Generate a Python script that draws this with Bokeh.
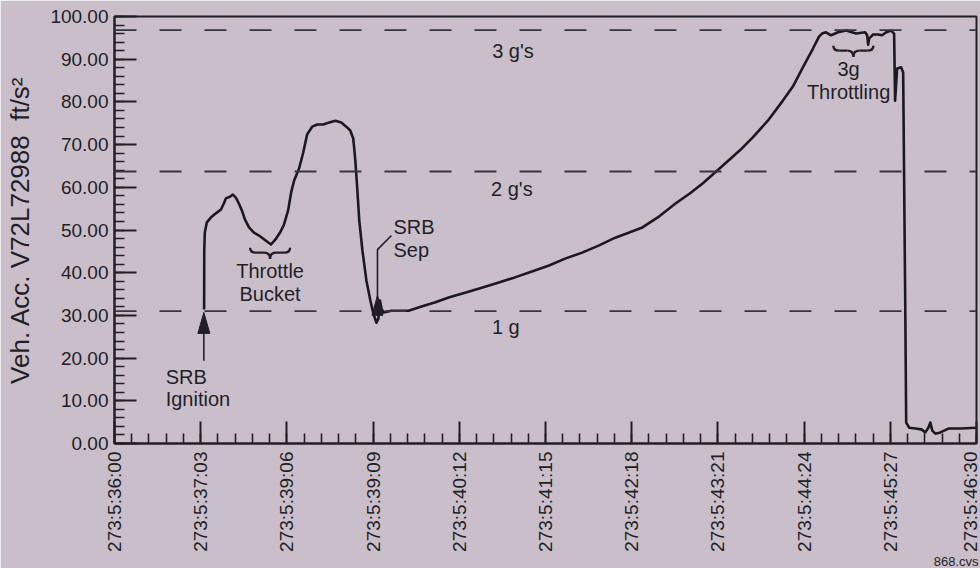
import math
from bokeh.plotting import figure
from bokeh.models import Range1d, SingleIntervalTicker, PrintfTickFormatter, Span, Title, ColumnDataSource
from bokeh.core.properties import value
from bokeh.embed import file_html
from bokeh.resources import INLINE

# ---------------- data ----------------
tick_labels = ["273:5:36:00", "273:5:37:03", "273:5:39:06", "273:5:39:09", "273:5:40:12",
               "273:5:41:15", "273:5:42:18", "273:5:43:21", "273:5:44:24", "273:5:45:27",
               "273:5:46:30"]
tick_step = 63  # seconds between labelled ticks

t = [65.5, 65.6, 66.0, 67.5, 70.4, 74.1, 77.8, 79.9, 81.4, 84.3, 86.5, 88.7, 90.9, 93.1, 95.3,
     98.3, 101.9, 105.6, 110.7, 114.4, 118.1, 121.0, 123.9, 126.9, 129.1, 131.3, 134.9, 137.9,
     140.8, 144.5, 148.2, 152.6, 157.0, 161.4, 165.7, 169.4, 172.3, 174.5, 176.0, 177.5, 178.9,
     181.2, 184.1, 187.0, 189.2, 191.4, 192.9, 194.0, 195.1, 196.6, 202.4, 214.9, 224.4, 234.0,
     244.2, 257.4, 268.4, 280.9, 292.6, 305.1, 317.6, 329.3, 341.8, 354.2, 366.0, 376.2, 385.8,
     398.2, 410.0, 420.2, 429.8, 442.2, 456.9, 466.5, 477.5, 488.5, 495.8, 503.1, 510.5, 514.9,
     517.1, 520.0, 523.7, 528.8, 534.7, 542.0, 548.6, 550.1, 550.8, 551.5, 554.5, 558.1, 561.0,
     564.0, 567.6, 569.8, 570.5, 572.0, 574.9, 576.4, 577.9, 578.6, 580.9, 585.3, 589.7, 592.6,
     594.8, 596.3, 597.7, 599.9, 603.6, 609.5, 618.3, 630.0]
acc = [31.4, 45.2, 49.4, 51.8, 52.9, 53.9, 54.8, 56.2, 57.4, 57.8, 58.3, 57.6, 56.2, 54.6, 52.5,
       50.6, 49.4, 48.7, 47.5, 46.6, 48.0, 49.4, 51.3, 54.6, 58.8, 61.6, 64.4, 68.1, 72.4, 74.2,
       74.7, 74.7, 75.2, 75.6, 75.2, 74.2, 73.3, 71.4, 66.3, 59.3, 52.2, 45.2, 38.2, 33.5, 30.4,
       28.3, 29.3, 33.5, 31.6, 30.7, 31.1, 31.1, 32.1, 33.0, 34.2, 35.4, 36.5, 37.7, 38.9, 40.3,
       41.7, 43.3, 44.7, 46.4, 48.2, 49.4, 50.6, 53.2, 56.2, 58.5, 60.9, 64.4, 68.6, 71.7, 75.6,
       80.3, 83.6, 88.1, 92.5, 95.3, 96.0, 96.3, 95.6, 96.3, 96.7, 96.0, 96.3, 95.6, 93.4, 94.8,
       95.8, 95.8, 95.6, 96.3, 96.7, 96.0, 80.3, 87.8, 88.1, 86.9, 33.5, 4.9, 3.7, 3.5, 3.3,
       2.6, 3.7, 4.9, 3.0, 2.3, 2.6, 3.5, 3.5, 3.7]

g_levels = [31.0, 63.7, 96.8]
g_labels = ["1 g", "2 g's", "3 g's"]
g_label_x = [286.0, 290.4, 291.2]
g_label_y = [25.8, 58.1, 90.4]

ann_text = ["SRB", "Ignition", "Throttle", "Bucket", "SRB", "Sep", "3g", "Throttling"]
ann_x = [37.4, 37.4, 113.7, 113.7, 203.9, 203.9, 536.5, 536.5]
ann_y = [14.1, 9.1, 38.9, 33.5, 49.4, 43.8, 86.2, 81.0]
ann_align = ["left", "left", "center", "center", "left", "left", "center", "center"]

brace_x = [113.7, 540.0]
brace_y = [44.7, 92.0]

# arrows: (path xs, path ys) ending at the tip
ign_arrow_x = [65.3, 65.3]
ign_arrow_y = [19.4, 30.7]
sep_arrow_x = [202.4, 192.2, 192.2]
sep_arrow_y = [48.7, 45.4, 34.7]

file_tag = "868.cvs"

# ---------------- style ----------------
BG = "#cbbecb"
INK = "#221e26"
FONT = "Liberation Sans"
W, H = 980, 568
ML, MR, MT, MB = 114, 4, 16, 125
XMAX = tick_step * (len(tick_labels) - 1)
FW, FH = W - ML - MR, H - MT - MB
SX = XMAX / FW      # data units per px
SY = 100.0 / FH
TEXT_DY = -6        # baseline calibration for the text glyphs (px)

p = figure(width=W, height=H, x_range=Range1d(0, XMAX), y_range=Range1d(0, 100),
           output_backend="svg", toolbar_location=None,
           min_border_left=ML, min_border_right=MR, min_border_top=MT, min_border_bottom=MB)
p.background_fill_color = BG
p.border_fill_color = BG
p.outline_line_color = INK
p.outline_line_width = 2
p.xgrid.visible = False
p.ygrid.visible = False

for ax in (p.xaxis[0], p.yaxis[0]):
    ax.axis_line_color = INK
    ax.axis_line_width = 2
    ax.major_tick_line_color = INK
    ax.minor_tick_line_color = INK
    ax.major_tick_line_width = 2
    ax.minor_tick_line_width = 1.6
    ax.major_tick_in = 22
    ax.major_tick_out = 0
    ax.minor_tick_in = 10
    ax.minor_tick_out = 0
    ax.major_label_text_font = FONT
    ax.major_label_text_font_size = "19px"
    ax.major_label_text_color = INK

p.xaxis.ticker = SingleIntervalTicker(interval=tick_step, num_minor_ticks=5)
p.xaxis.major_label_overrides = {i * tick_step: lab for i, lab in enumerate(tick_labels)}
p.xaxis.major_label_orientation = math.pi / 2
p.xaxis.major_label_standoff = 8

p.yaxis.ticker = SingleIntervalTicker(interval=10, num_minor_ticks=5)
p.yaxis.formatter = PrintfTickFormatter(format="%.2f")
p.yaxis.major_label_standoff = 6
p.yaxis.axis_label = "Veh. Acc. V72L72988\u00a0\u00a0ft/s\u00b2"
p.yaxis.axis_label_text_font = FONT
p.yaxis.axis_label_text_font_size = "26px"
p.yaxis.axis_label_text_font_style = "normal"
p.yaxis.axis_label_text_color = INK
p.yaxis.axis_label_standoff = 12

# file tag under the time axis, bottom right
p.add_layout(Title(text=file_tag, align="right", text_font=FONT, text_font_size="13px",
                   text_font_style="normal", text_color=INK, standoff=-5, offset=-2), "below")

# g-level dashed lines
for lvl in g_levels:
    p.add_layout(Span(location=lvl, dimension="width", line_color="#3a3340",
                      line_width=1.8, line_dash="22 23"))

p.text(x=g_label_x, y=g_label_y, text=g_labels, text_font=value(FONT), text_font_size="20px",
       text_color=INK, text_align="center", text_baseline="alphabetic", y_offset=TEXT_DY)

# trace
p.line(t, acc, line_color="#1c181f", line_width=2.6, line_join="round")

# annotations text
src = ColumnDataSource(dict(x=ann_x, y=ann_y, text=ann_text, align=ann_align))
p.text(x="x", y="y", text="text", source=src, text_align="align", text_baseline="alphabetic",
       text_font=value(FONT), text_font_size="20px", text_color=INK, y_offset=TEXT_DY)

# braces (tip pointing down)
hw, r = 20 * SX, 6 * SX
rise, drop = 5 * SY, 6 * SY
q = dict(x0=[], y0=[], x1=[], y1=[], cx=[], cy=[])
seg = dict(x0=[], y0=[], x1=[], y1=[])
for bx, by in zip(brace_x, brace_y):
    for s in (-1, 1):
        q["x0"].append(bx + s * hw); q["y0"].append(by + rise)
        q["cx"].append(bx + s * hw); q["cy"].append(by)
        q["x1"].append(bx + s * (hw - r)); q["y1"].append(by)
        q["x0"].append(bx + s * r); q["y0"].append(by)
        q["cx"].append(bx); q["cy"].append(by)
        q["x1"].append(bx); q["y1"].append(by - drop)
        seg["x0"].append(bx + s * (hw - r)); seg["y0"].append(by)
        seg["x1"].append(bx + s * r); seg["y1"].append(by)
p.quadratic(x0=q["x0"], y0=q["y0"], x1=q["x1"], y1=q["y1"], cx=q["cx"], cy=q["cy"],
            line_color=INK, line_width=2.4)
p.segment(x0=seg["x0"], y0=seg["y0"], x1=seg["x1"], y1=seg["y1"], line_color=INK, line_width=2.4)

# arrows with narrow filled heads
def arrow(xs, ys, head_len_px, head_w_px):
    hl = head_len_px * SY
    hwid = head_w_px / 2 * SX
    tipx, tipy = xs[-1], ys[-1]
    p.line(xs[:-1] + [tipx], ys[:-1] + [tipy - hl], line_color=INK, line_width=1.6)
    p.patch([tipx, tipx - hwid, tipx + hwid], [tipy, tipy - hl, tipy - hl],
            fill_color=INK, line_color=INK, line_width=1)

arrow(ign_arrow_x, ign_arrow_y, 21, 12)
arrow(sep_arrow_x, sep_arrow_y, 20, 11)

open("out.html", "w").write(file_html(p, INLINE))
